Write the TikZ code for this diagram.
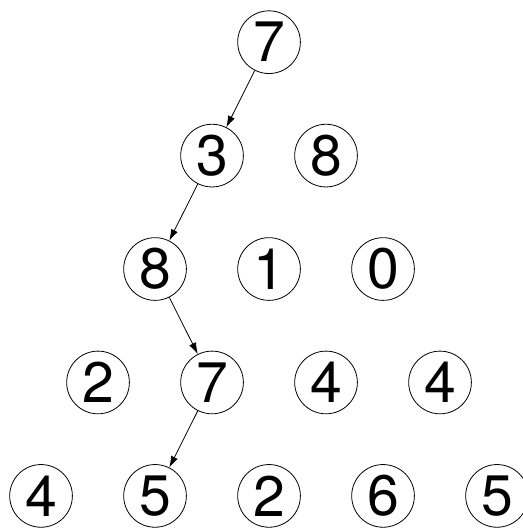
\documentclass[tikz,border=0pt]{standalone}
\usepackage{fontspec}
\setsansfont{TeX Gyre Heros}
\usetikzlibrary{arrows.meta}
\begin{document}
\begin{tikzpicture}[
    num/.style={circle, draw, thin, inner sep=0pt, minimum size=1.1cm,
      font=\sffamily\fontsize{28.5}{30}\selectfont},
    pick/.style={-{Latex[length=2mm,width=1.3mm]}, thin}]
  % Page size
  \useasboundingbox (0,0) rectangle (9.175,-9.281);
  % Rows of the triangle
  \foreach \r/\vals in {1/{7}, 2/{3,8}, 3/{8,1,0}, 4/{2,7,4,4}, 5/{4,5,2,6,5}}{
    \foreach \v [count=\c] in \vals {
      \node[num] (n\r-\c) at ({4.72-(\r-1)+2*(\c-1)}, {-0.74-1.99*(\r-1)}) {\v};
    }
  }
  % Chosen path
  \draw[pick] (n1-1) -- (n2-1);
  \draw[pick] (n2-1) -- (n3-1);
  \draw[pick] (n3-1) -- (n4-2);
  \draw[pick] (n4-2) -- (n5-2);
\end{tikzpicture}
\end{document}
